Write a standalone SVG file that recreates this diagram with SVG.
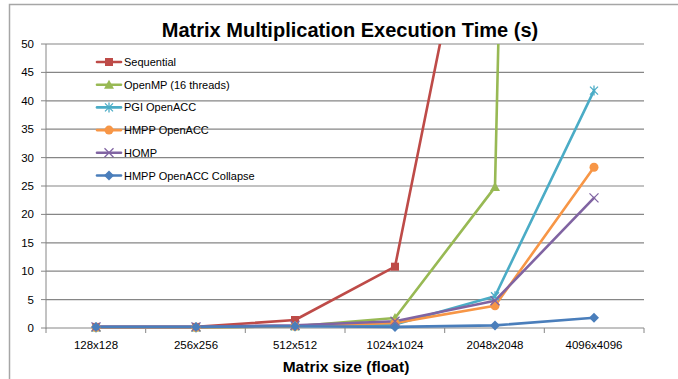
<svg xmlns="http://www.w3.org/2000/svg" width="678" height="379" viewBox="0 0 678 379">
<style>
text{font-family:"Liberation Sans",Arial,sans-serif;fill:#000}
.title{font-size:20px;font-weight:bold}
.axt{font-size:15.5px;font-weight:bold}
.tick{font-size:11.5px}
.leg{font-size:11px}
.grid{stroke:#868686;stroke-width:1.2;fill:none}
.ax{stroke:#868686;stroke-width:1;fill:none}
.s{fill:none;stroke-width:2.6;stroke-linejoin:round;stroke-linecap:round}
.red{stroke:#BE4B48;fill:#BE4B48}
.grn{stroke:#98B954;fill:#98B954}
.teal{stroke:#4BACC6;fill:#4BACC6}
.org{stroke:#F79646;fill:#F79646}
.pur{stroke:#8064A2;fill:#8064A2}
.blu{stroke:#4A7EBB;fill:#4A7EBB}
.ln{fill:none}
</style>
<defs>
<clipPath id="plot"><rect x="40" y="40" width="610" height="295"/></clipPath>
<clipPath id="plotl"><rect x="46" y="44" width="604" height="290"/></clipPath>
<g id="mSq"><rect x="-4" y="-4" width="8" height="8" stroke="none"/></g>
<g id="mTri"><polygon points="0,-5 5,4 -5,4" stroke="none"/></g>
<g id="mAst"><path d="M-4,-4L4,4M-4,4L4,-4M0,-5L0,5" stroke-width="1.3" fill="none"/></g>
<g id="mCir"><circle r="4.5" stroke="none"/></g>
<g id="mX"><path d="M-4.5,-4.5L4.5,4.5M-4.5,4.5L4.5,-4.5" stroke-width="1.3" fill="none"/></g>
<g id="mDia"><polygon points="0,-5 5,0 0,5 -5,0" stroke="none"/></g>
</defs>
<rect width="678" height="379" fill="#fff"/>
<path d="M9.5,379V4.5H678" fill="none" stroke="#a6a6a6" stroke-width="1.5"/>
<text class="title" x="350" y="37" text-anchor="middle">Matrix Multiplication Execution Time (s)</text>
<g id="grid">
<path class="grid" d="M46,44H644M46,72.4H644M46,100.8H644M46,129.2H644M46,157.6H644M46,186H644M46,214.4H644M46,242.8H644M46,271.2H644M46,299.6H644"/>
<path class="ax" d="M46,44V328.5M41,44H46M41,72.4H46M41,100.8H46M41,129.2H46M41,157.6H46M41,186H46M41,214.4H46M41,242.8H46M41,271.2H46M41,299.6H46M41,328H46"/>
<path class="ax" d="M46,328H644M46,328V333M145.7,328V333M245.3,328V333M345,328V333M444.7,328V333M544.3,328V333M644,328V333"/>
</g>
<g id="yticks" class="tick" text-anchor="end">
<text x="34" y="48">50</text><text x="34" y="76.4">45</text><text x="34" y="104.8">40</text><text x="34" y="133.2">35</text><text x="34" y="161.6">30</text><text x="34" y="190">25</text><text x="34" y="218.4">20</text><text x="34" y="246.8">15</text><text x="34" y="275.2">10</text><text x="34" y="303.6">5</text><text x="34" y="332">0</text>
</g>
<g id="xticks" class="tick" text-anchor="middle">
<text x="96" y="349">128x128</text><text x="196" y="349">256x256</text><text x="295" y="349">512x512</text><text x="395" y="349">1024x1024</text><text x="495" y="349">2048x2048</text><text x="594" y="349">4096x4096</text>
</g>
<text class="axt" x="346" y="372" text-anchor="middle">Matrix size (float)</text>
<g id="connectors">
<g clip-path="url(#plotl)">
<polyline class="s red ln" points="96,326.9 196,326.9 295,320 395,266.7 495,-228.6"/>
<polyline class="s grn ln" points="96,327.4 196,327.4 295,326.3 395,318 495,187.1 594,-4100"/>
<polyline class="s teal ln" points="96,327.4 196,327.4 295,326.3 395,324.6 495,296.2 594,90.6"/>
<polyline class="s org ln" points="96,327.4 196,327.4 295,326.3 395,322.9 495,305.8 594,167.3"/>
<polyline class="s pur ln" points="96,326.9 196,326.9 295,325.2 395,321.2 495,300.7 594,197.9"/>
<polyline class="s blu ln" points="96,326.9 196,326.9 295,326.3 395,326.9 495,325.4 594,317.8"/>
</g>
</g>
<g id="markers" clip-path="url(#plot)">
<g id="seq" class="red"><use href="#mSq" x="96" y="326.9"/><use href="#mSq" x="196" y="326.9"/><use href="#mSq" x="295" y="320"/><use href="#mSq" x="395" y="266.7"/></g>
<g id="omp" class="grn"><use href="#mTri" x="96" y="327.4"/><use href="#mTri" x="196" y="327.4"/><use href="#mTri" x="295" y="326.3"/><use href="#mTri" x="395" y="318"/><use href="#mTri" x="495" y="187.1"/></g>
<g id="pgi" class="teal"><use href="#mAst" x="96" y="327.4"/><use href="#mAst" x="196" y="327.4"/><use href="#mAst" x="295" y="326.3"/><use href="#mAst" x="395" y="324.6"/><use href="#mAst" x="495" y="296.2"/><use href="#mAst" x="594" y="90.6"/></g>
<g id="hmpp" class="org"><use href="#mCir" x="96" y="327.4"/><use href="#mCir" x="196" y="327.4"/><use href="#mCir" x="295" y="326.3"/><use href="#mCir" x="395" y="322.9"/><use href="#mCir" x="495" y="305.8"/><use href="#mCir" x="594" y="167.3"/></g>
<g id="homp" class="pur"><use href="#mX" x="96" y="326.9"/><use href="#mX" x="196" y="326.9"/><use href="#mX" x="295" y="325.2"/><use href="#mX" x="395" y="321.2"/><use href="#mX" x="495" y="300.7"/><use href="#mX" x="594" y="197.9"/></g>
<g id="coll" class="blu"><use href="#mDia" x="96" y="326.9"/><use href="#mDia" x="196" y="326.9"/><use href="#mDia" x="295" y="326.3"/><use href="#mDia" x="395" y="326.9"/><use href="#mDia" x="495" y="325.4"/><use href="#mDia" x="594" y="317.8"/></g>
</g>
<g id="legend">
<g class="red"><path class="s ln" d="M97,62H121"/><use href="#mSq" x="109" y="62"/></g><text class="leg" x="124" y="66">Sequential</text>
<g class="grn"><path class="s ln" d="M97,84.7H121"/><use href="#mTri" x="109" y="84.7"/></g><text class="leg" x="124" y="88.7">OpenMP (16 threads)</text>
<g class="teal"><path class="s ln" d="M97,107.4H121"/><use href="#mAst" x="109" y="107.4"/></g><text class="leg" x="124" y="111.4">PGI OpenACC</text>
<g class="org"><path class="s ln" d="M97,130.1H121"/><use href="#mCir" x="109" y="130.1"/></g><text class="leg" x="124" y="134.1">HMPP OpenACC</text>
<g class="pur"><path class="s ln" d="M97,152.8H121"/><use href="#mX" x="109" y="152.8"/></g><text class="leg" x="124" y="156.8">HOMP</text>
<g class="blu"><path class="s ln" d="M97,175.5H121"/><use href="#mDia" x="109" y="175.5"/></g><text class="leg" x="124" y="179.5">HMPP OpenACC Collapse</text>
</g>
</svg>
